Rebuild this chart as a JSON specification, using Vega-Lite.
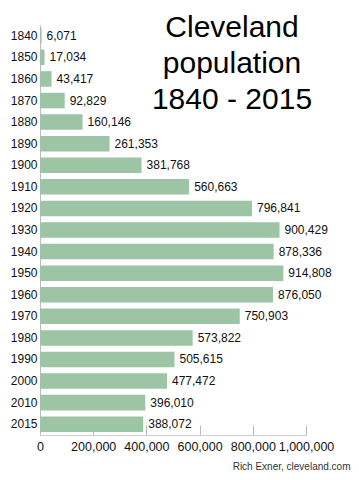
{
  "$schema": "https://vega.github.io/schema/vega-lite/v6.json",
  "width": 266,
  "height": 410,
  "autosize": "none",
  "padding": {"left": 40, "top": 25, "right": 53, "bottom": 45},
  "background": "white",
  "config": {"view": {"stroke": null}, "font": "Liberation Sans"},
  "title": {
    "text": ["Cleveland", "population", "1840 - 2015"],
    "fontSize": 30,
    "fontWeight": "normal",
    "color": "#000000",
    "lineHeight": 36,
    "anchor": "middle",
    "frame": "group",
    "orient": "top",
    "baseline": "top",
    "dx": 59,
    "dy": 75,
    "offset": -15
  },
  "data": {
    "values": [
      {"year": "1840", "pop": 6071},
      {"year": "1850", "pop": 17034},
      {"year": "1860", "pop": 43417},
      {"year": "1870", "pop": 92829},
      {"year": "1880", "pop": 160146},
      {"year": "1890", "pop": 261353},
      {"year": "1900", "pop": 381768},
      {"year": "1910", "pop": 560663},
      {"year": "1920", "pop": 796841},
      {"year": "1930", "pop": 900429},
      {"year": "1940", "pop": 878336},
      {"year": "1950", "pop": 914808},
      {"year": "1960", "pop": 876050},
      {"year": "1970", "pop": 750903},
      {"year": "1980", "pop": 573822},
      {"year": "1990", "pop": 505615},
      {"year": "2000", "pop": 477472},
      {"year": "2010", "pop": 396010},
      {"year": "2015", "pop": 388072}
    ]
  },
  "encoding": {
    "y": {
      "field": "year",
      "type": "nominal",
      "sort": null,
      "scale": {"paddingInner": 0.28, "paddingOuter": 0.14},
      "axis": {
        "title": null,
        "ticks": false,
        "domainColor": "#bbbbbb",
        "labelFontSize": 12,
        "labelColor": "#111111",
        "labelPadding": 3
      }
    },
    "x": {
      "field": "pop",
      "type": "quantitative",
      "scale": {"domain": [0, 1000000], "nice": false},
      "axis": {
        "values": [0, 200000, 400000, 600000, 800000, 1000000],
        "format": ",d",
        "grid": false,
        "tickSize": -10,
        "tickColor": "#bbbbbb",
        "domainColor": "#cccccc",
        "labelFontSize": 12.5,
        "labelColor": "#111111",
        "labelPadding": 15,
        "labelFlush": false,
        "title": "Rich Exner, cleveland.com",
        "titleFontSize": 10,
        "titleFontWeight": "normal",
        "titleColor": "#333333",
        "titleAlign": "right",
        "titleX": 310,
        "titleY": 34,
        "titleBaseline": "alphabetic"
      }
    }
  },
  "layer": [
    {
      "mark": {"type": "bar", "color": "#9cc4a5"}
    },
    {
      "mark": {"type": "text", "align": "left", "dx": 5, "fontSize": 12, "color": "#111111"},
      "encoding": {
        "text": {"field": "pop", "type": "quantitative", "format": ",d"}
      }
    }
  ]
}
